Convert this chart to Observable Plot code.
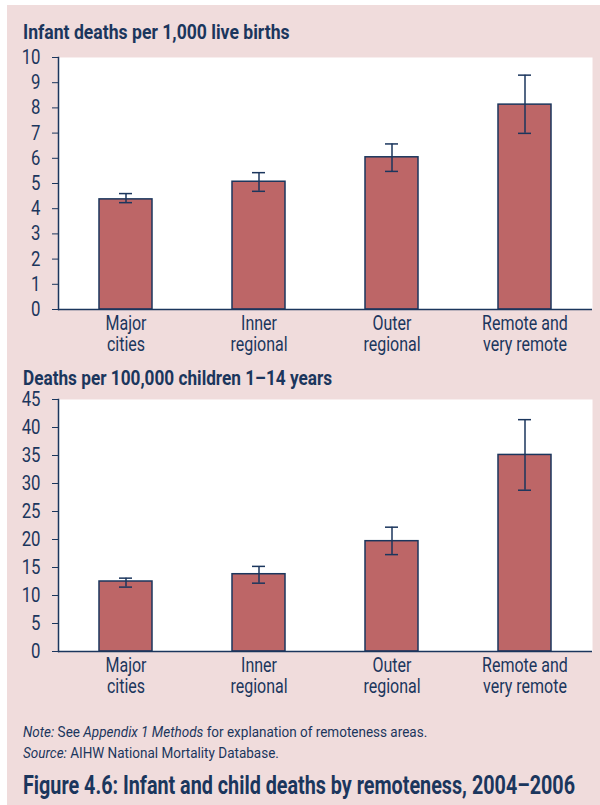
<!DOCTYPE html>
<html>
<head>
<meta charset="utf-8">
<script src="https://cdn.jsdelivr.net/npm/d3@7"></script>
<script src="https://cdn.jsdelivr.net/npm/@observablehq/plot@0.6"></script>
<style>
  html, body { margin: 0; padding: 0; background: #ffffff; }
  #page { position: relative; width: 600px; height: 805px; overflow: hidden;
    font-family: Roboto, "Liberation Sans", sans-serif; color: #1b365d; }
  #panel { position: absolute; left: 7px; top: 5px; width: 593px; height: 800px; background: #f0dcdc; }
  .ttl { position: absolute; left: 23px; font-weight: bold; font-size: 20px; line-height: 1; white-space: nowrap; transform-origin: 0 0; }
  .chart { position: absolute; left: 0; }
  .note { position: absolute; left: 23px; font-size: 15px; line-height: 1; white-space: nowrap; transform-origin: 0 0; transform: scaleX(0.9); }
  .fig { position: absolute; left: 23px; font-weight: bold; font-size: 26px; line-height: 1; white-space: nowrap; transform-origin: 0 0; transform: scaleX(0.76); }
</style>
</head>
<body>
<div id="page">
  <div id="panel"></div>
  <div class="ttl" id="t1" style="top:22px; transform: scaleX(0.88)">Infant deaths per 1,000 live births</div>
  <div class="chart" id="c1" style="top:45px"></div>
  <div class="ttl" id="t2" style="top:368px; transform: scaleX(0.86)">Deaths per 100,000 children 1–14 years</div>
  <div class="chart" id="c2" style="top:388px"></div>
  <div class="note" style="top:725px"><i>Note:</i> See <i>Appendix 1 Methods</i> for explanation of remoteness areas.</div>
  <div class="note" style="top:746px"><i>Source:</i> AIHW National Mortality Database.</div>
  <div class="fig" style="top:772px">Figure 4.6: Infant and child deaths by remoteness, 2004–2006</div>
</div>
<script>
const categories = ["Major\ncities", "Inner\nregional", "Outer\nregional", "Remote and\nvery remote"];

const infantRate = [4.37, 5.07, 6.04, 8.13];
const infantLow  = [4.24, 4.69, 5.48, 6.99];
const infantHigh = [4.60, 5.43, 6.57, 9.30];
const infantTicks = [0, 1, 2, 3, 4, 5, 6, 7, 8, 9, 10];

const childRate = [12.5, 13.8, 19.7, 35.1];
const childLow  = [11.5, 12.2, 17.3, 28.8];
const childHigh = [13.1, 15.2, 22.2, 41.4];
const childTicks = [0, 5, 10, 15, 20, 25, 30, 35, 40, 45];

const NAVY = "#1b365d";
const BAR = "#bd6667";
const FONT = 'Roboto, "Liberation Sans", sans-serif';

function makeChart(values, lows, highs, ticks, marginTop) {
  const data = categories.map((c, i) => ({c, v: values[i], lo: lows[i], hi: highs[i]}));
  const max = ticks[ticks.length - 1];
  const svg = Plot.plot({
    width: 600,
    height: marginTop + 252 + 50,
    marginLeft: 58,
    marginRight: 8,
    marginTop,
    marginBottom: 50,
    style: {background: "transparent", fontFamily: FONT, fontSize: "20px", color: NAVY, overflow: "visible"},
    x: {domain: categories, paddingInner: 0.6, paddingOuter: 0.3, label: null},
    y: {domain: [0, max], label: null},
    marks: [
      Plot.frame({fill: "white", stroke: null}),
      Plot.barY(data, {x: "c", y: "v", fill: BAR, stroke: NAVY, strokeWidth: 1.5}),
      Plot.ruleX(data, {x: "c", y1: "lo", y2: "hi", stroke: NAVY, strokeWidth: 1.5}),
      Plot.tickY(data, {x: "c", y: "lo", insetLeft: 20, insetRight: 20, stroke: NAVY, strokeWidth: 1.5}),
      Plot.tickY(data, {x: "c", y: "hi", insetLeft: 20, insetRight: 20, stroke: NAVY, strokeWidth: 1.5}),
      Plot.frame({anchor: "left", stroke: NAVY, strokeWidth: 1.5}),
      Plot.ruleY([0], {stroke: NAVY, strokeWidth: 1.5}),
      Plot.axisY({ticks, tickSize: 6, tickPadding: 12, label: null, stroke: NAVY, strokeOpacity: 1, fill: NAVY}),
      Plot.axisX({tickSize: 0, tickPadding: 6, label: null, fill: NAVY, lineHeight: 1.05})
    ]
  });
  // condensed look for tick labels
  svg.querySelectorAll('g[aria-label="x-axis tick label"] text').forEach(t => {
    const tr = t.getAttribute("transform") || "";
    t.setAttribute("transform", tr + " scale(0.8,1)");
  });
  svg.querySelectorAll('g[aria-label="y-axis tick label"] text').forEach(t => {
    const tr = t.getAttribute("transform") || "";
    t.setAttribute("transform", tr + " scale(0.84,1)");
  });
  return svg;
}

document.getElementById("c1").appendChild(makeChart(infantRate, infantLow, infantHigh, infantTicks, 12));
document.getElementById("c2").appendChild(makeChart(childRate, childLow, childHigh, childTicks, 11));
</script>
</body>
</html>
